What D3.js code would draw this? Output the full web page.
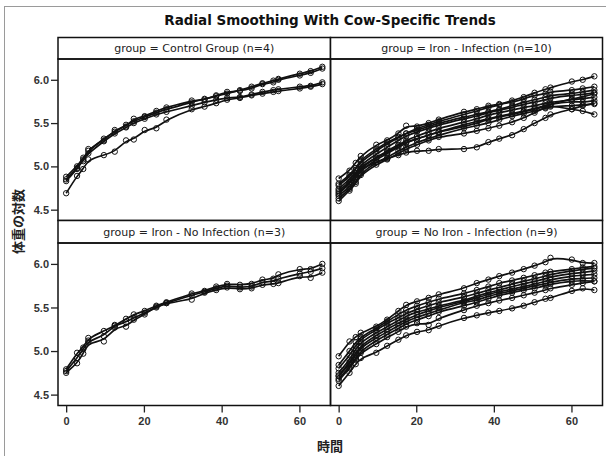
<!DOCTYPE html>
<html>
<head>
<meta charset="utf-8">
<script src="https://cdn.jsdelivr.net/npm/d3@7"></script>
<style>
  html, body { margin: 0; padding: 0; background: #fff; }
  svg { display: block; }
</style>
</head>
<body>
<svg id="chart" width="606" height="456"></svg>
<script>
// Measurement times (scaled days) shared by every cow
const timePoints = [0, 2.8, 4.4, 5.7, 9.7, 12.5, 15.4, 17.4, 20.2, 23.2, 25.8, 32.3,
  35.6, 38.6, 41.4, 44.7, 47.7, 50.5, 53.3, 54.6, 60.1, 62.9, 65.9];

// Log body weight per cow, one row per cow
const controlCows = [
  [4.88, 5.00, 5.10, 5.18, 5.32, 5.40, 5.48, 5.52, 5.57, 5.62, 5.66, 5.74, 5.78, 5.81, 5.84, 5.88, 5.92, 5.96, 5.99, 6.01, 6.07, 6.10, 6.15],
  [4.85, 4.98, 5.06, 5.20, 5.30, 5.42, 5.46, 5.55, 5.58, 5.64, 5.68, 5.76, 5.77, 5.82, 5.86, 5.87, 5.90, 5.95, 5.97, 6.00, 6.05, 6.08, 6.13],
  [4.83, 4.97, 5.08, 5.15, 5.29, 5.38, 5.45, 5.50, 5.55, 5.60, 5.63, 5.70, 5.74, 5.77, 5.79, 5.80, 5.83, 5.86, 5.88, 5.89, 5.92, 5.93, 5.97],
  [4.69, 4.89, 4.97, 5.08, 5.13, 5.17, 5.30, 5.31, 5.42, 5.44, 5.54, 5.66, 5.69, 5.73, 5.77, 5.79, 5.82, 5.84, 5.86, 5.87, 5.90, 5.92, 5.95]
];
const ironInfectionCows = [
  [4.80, 4.90, 4.98, 5.05, 5.18, 5.26, 5.33, 5.38, 5.44, 5.48, 5.52, 5.60, 5.64, 5.68, 5.71, 5.76, 5.80, 5.85, 5.89, 5.91, 5.98, 6.00, 6.04],
  [4.86, 4.95, 5.04, 5.12, 5.25, 5.30, 5.38, 5.47, 5.46, 5.50, 5.54, 5.63, 5.66, 5.70, 5.72, 5.74, 5.78, 5.82, 5.84, 5.86, 5.88, 5.90, 5.92],
  [4.78, 4.88, 4.96, 5.08, 5.20, 5.28, 5.34, 5.38, 5.42, 5.46, 5.50, 5.57, 5.60, 5.63, 5.66, 5.70, 5.74, 5.77, 5.80, 5.82, 5.84, 5.86, 5.88],
  [4.74, 4.85, 4.92, 5.02, 5.14, 5.22, 5.30, 5.35, 5.40, 5.44, 5.48, 5.55, 5.58, 5.62, 5.65, 5.68, 5.72, 5.74, 5.77, 5.79, 5.82, 5.83, 5.85],
  [4.70, 4.80, 4.90, 5.00, 5.10, 5.18, 5.25, 5.30, 5.35, 5.40, 5.44, 5.51, 5.55, 5.59, 5.62, 5.65, 5.68, 5.70, 5.73, 5.74, 5.77, 5.78, 5.80],
  [4.66, 4.76, 4.86, 4.95, 5.08, 5.15, 5.22, 5.27, 5.32, 5.36, 5.40, 5.48, 5.52, 5.55, 5.58, 5.61, 5.64, 5.67, 5.70, 5.72, 5.75, 5.74, 5.76],
  [4.63, 4.74, 4.82, 4.92, 5.05, 5.10, 5.18, 5.22, 5.28, 5.32, 5.36, 5.44, 5.47, 5.50, 5.54, 5.58, 5.61, 5.64, 5.67, 5.69, 5.70, 5.71, 5.72],
  [4.72, 4.82, 4.90, 4.97, 5.05, 5.09, 5.13, 5.16, 5.18, 5.18, 5.20, 5.20, 5.22, 5.28, 5.32, 5.36, 5.43, 5.50, 5.56, 5.60, 5.66, 5.70, 5.73],
  [4.60, 4.72, 4.80, 4.90, 5.02, 5.08, 5.15, 5.20, 5.25, 5.30, 5.34, 5.38, 5.41, 5.44, 5.47, 5.51, 5.56, 5.62, 5.68, 5.72, 5.78, 5.80, 5.84],
  [4.68, 4.80, 4.88, 4.98, 5.10, 5.16, 5.24, 5.28, 5.32, 5.36, 5.40, 5.46, 5.50, 5.54, 5.57, 5.60, 5.63, 5.66, 5.69, 5.70, 5.66, 5.64, 5.60]
];
const ironNoInfectionCows = [
  [4.79, 4.98, 5.04, 5.15, 5.23, 5.29, 5.37, 5.42, 5.46, 5.52, 5.56, 5.66, 5.69, 5.74, 5.77, 5.76, 5.77, 5.82, 5.83, 5.88, 5.94, 5.94, 6.00],
  [4.77, 4.92, 5.02, 5.12, 5.17, 5.30, 5.33, 5.38, 5.44, 5.50, 5.55, 5.64, 5.68, 5.72, 5.75, 5.73, 5.74, 5.79, 5.80, 5.83, 5.89, 5.91, 5.95],
  [4.75, 4.86, 4.97, 5.10, 5.11, 5.27, 5.28, 5.36, 5.42, 5.51, 5.55, 5.59, 5.67, 5.70, 5.73, 5.71, 5.72, 5.76, 5.77, 5.78, 5.86, 5.84, 5.90]
];
const noIronInfectionCows = [
  [4.94, 5.11, 5.16, 5.21, 5.28, 5.36, 5.46, 5.53, 5.57, 5.61, 5.65, 5.72, 5.78, 5.82, 5.86, 5.90, 5.94, 5.98, 6.02, 6.07, 6.05, 6.01, 6.01],
  [4.84, 5.00, 5.10, 5.16, 5.26, 5.34, 5.42, 5.47, 5.52, 5.56, 5.60, 5.66, 5.70, 5.74, 5.78, 5.81, 5.84, 5.87, 5.90, 5.91, 5.94, 5.96, 5.97],
  [4.80, 4.95, 5.06, 5.14, 5.24, 5.32, 5.38, 5.43, 5.48, 5.52, 5.56, 5.62, 5.66, 5.70, 5.73, 5.77, 5.80, 5.83, 5.86, 5.88, 5.92, 5.94, 5.95],
  [4.75, 4.90, 5.02, 5.10, 5.21, 5.28, 5.35, 5.40, 5.45, 5.48, 5.52, 5.58, 5.63, 5.67, 5.70, 5.74, 5.77, 5.80, 5.83, 5.85, 5.89, 5.90, 5.92],
  [4.72, 4.87, 4.98, 5.06, 5.18, 5.25, 5.32, 5.36, 5.42, 5.46, 5.50, 5.57, 5.61, 5.65, 5.68, 5.71, 5.74, 5.77, 5.80, 5.82, 5.86, 5.87, 5.88],
  [4.71, 4.85, 4.95, 5.04, 5.15, 5.22, 5.29, 5.34, 5.39, 5.43, 5.47, 5.56, 5.58, 5.63, 5.66, 5.69, 5.72, 5.75, 5.77, 5.79, 5.83, 5.83, 5.84],
  [4.68, 4.82, 4.92, 5.00, 5.12, 5.19, 5.26, 5.31, 5.36, 5.40, 5.45, 5.52, 5.56, 5.60, 5.64, 5.67, 5.70, 5.72, 5.75, 5.77, 5.80, 5.81, 5.80],
  [4.66, 4.80, 4.90, 4.98, 5.08, 5.16, 5.22, 5.28, 5.32, 5.30, 5.38, 5.47, 5.52, 5.55, 5.58, 5.61, 5.64, 5.67, 5.70, 5.72, 5.76, 5.78, 5.80],
  [4.60, 4.75, 4.85, 4.92, 4.98, 5.06, 5.13, 5.18, 5.22, 5.24, 5.29, 5.38, 5.41, 5.44, 5.46, 5.49, 5.52, 5.56, 5.60, 5.61, 5.69, 5.72, 5.70]
];

const groupNames = ["Control Group", "Iron - Infection", "Iron - No Infection", "No Iron - Infection"];
const groupCows = [controlCows, ironInfectionCows, ironNoInfectionCows, noIronInfectionCows];
const xTicks = [0, 20, 40, 60];
const yTicks = [4.5, 5.0, 5.5, 6.0];

const titleText = "Radial Smoothing With Cow-Specific Trends";
const xLabel = "時間";
const yLabel = "体重の対数";

// ---- layout ----
const svg = d3.select("#chart");
const colEdges = [[58, 330.5], [330.5, 602.5]];
const rowEdges = [ // [header top, plot top, plot bottom]
  [37.5, 59, 220.5],
  [220.5, 243, 405.5]
];
const xDomain = [-2.1, 68.0];
const yDomain = [4.375, 6.24];

// outer frame
svg.append("rect")
  .attr("x", 4.5).attr("y", 6.5).attr("width", 640).attr("height", 480)
  .attr("fill", "none").attr("stroke", "#9a9a9a").attr("stroke-width", 1);

// title
svg.append("text")
  .attr("x", 330).attr("y", 25)
  .attr("text-anchor", "middle")
  .attr("font-family", "'DejaVu Sans', sans-serif")
  .attr("font-weight", "bold")
  .attr("font-size", 13.5)
  .attr("fill", "#111")
  .text(titleText);

const lineGen = (xs, ys) => d3.line()
  .x((d, i) => xs(timePoints[i]))
  .y(d => ys(d))
  .curve(d3.curveBasis);

groupNames.forEach((name, gi) => {
  const col = gi % 2, row = Math.floor(gi / 2);
  const [x0, x1] = colEdges[col];
  const [hTop, pTop, pBot] = rowEdges[row];
  const xs = d3.scaleLinear().domain(xDomain).range([x0, x1]);
  const ys = d3.scaleLinear().domain(yDomain).range([pBot, pTop]);
  const cows = groupCows[gi];

  const g = svg.append("g");

  // header strip
  g.append("rect")
    .attr("x", x0).attr("y", hTop).attr("width", x1 - x0).attr("height", pTop - hTop)
    .attr("fill", "#fff").attr("stroke", "#111").attr("stroke-width", 1.5);
  g.append("text")
    .attr("x", (x0 + x1) / 2).attr("y", (hTop + pTop) / 2 + 4)
    .attr("text-anchor", "middle")
    .attr("font-family", "'DejaVu Sans', sans-serif")
    .attr("font-size", 11)
    .attr("fill", "#222")
    .text(`group = ${name} (n=${cows.length})`);

  // clip for data
  const clipId = "clip" + gi;
  svg.append("clipPath").attr("id", clipId)
    .append("rect").attr("x", x0).attr("y", pTop).attr("width", x1 - x0).attr("height", pBot - pTop);

  const data = g.append("g").attr("clip-path", `url(#${clipId})`);

  cows.forEach(cow => {
    data.append("path")
      .attr("d", lineGen(xs, ys)(cow))
      .attr("fill", "none")
      .attr("stroke", "#111")
      .attr("stroke-width", 1.7);
  });
  cows.forEach(cow => {
    data.selectAll(null)
      .data(cow)
      .enter().append("circle")
      .attr("cx", (d, i) => xs(timePoints[i]))
      .attr("cy", d => ys(d))
      .attr("r", 2.7)
      .attr("fill", "none")
      .attr("stroke", "#111")
      .attr("stroke-width", 1);
  });

  // plot frame
  g.append("rect")
    .attr("x", x0).attr("y", pTop).attr("width", x1 - x0).attr("height", pBot - pTop)
    .attr("fill", "none").attr("stroke", "#111").attr("stroke-width", 1.5);

  // axes on outer panels only
  if (col === 0) {
    const ax = g.append("g")
      .attr("transform", `translate(${x0},0)`)
      .call(d3.axisLeft(ys).tickValues(yTicks).tickFormat(d3.format(".1f")).tickSize(7).tickPadding(2));
    ax.select(".domain").remove();
    ax.selectAll(".tick line").attr("stroke", "#222").attr("stroke-width", 1.3);
    ax.selectAll(".tick text")
      .attr("font-family", "'Liberation Sans', Arial, sans-serif")
      .attr("font-weight", "bold").attr("font-size", 11).attr("fill", "#333");
  }
  if (row === 1) {
    const ax = g.append("g")
      .attr("transform", `translate(0,${pBot})`)
      .call(d3.axisBottom(xs).tickValues(xTicks).tickFormat(d3.format("d")).tickSize(7).tickPadding(5));
    ax.select(".domain").remove();
    ax.selectAll(".tick line").attr("stroke", "#222").attr("stroke-width", 1.3);
    ax.selectAll(".tick text")
      .attr("font-family", "'Liberation Sans', Arial, sans-serif")
      .attr("font-weight", "bold").attr("font-size", 11).attr("fill", "#333");
  }
});

// axis labels
svg.append("text")
  .attr("x", 330).attr("y", 451)
  .attr("text-anchor", "middle")
  .attr("font-family", "'Noto Sans CJK JP', sans-serif")
  .attr("font-weight", "bold")
  .attr("font-size", 13)
  .attr("fill", "#222")
  .text(xLabel);

svg.append("text")
  .attr("transform", "translate(23,221.5) rotate(-90)")
  .attr("text-anchor", "middle")
  .attr("font-family", "'Noto Sans CJK JP', sans-serif")
  .attr("font-weight", "bold")
  .attr("font-size", 13)
  .attr("fill", "#222")
  .text(yLabel);
</script>
</body>
</html>
